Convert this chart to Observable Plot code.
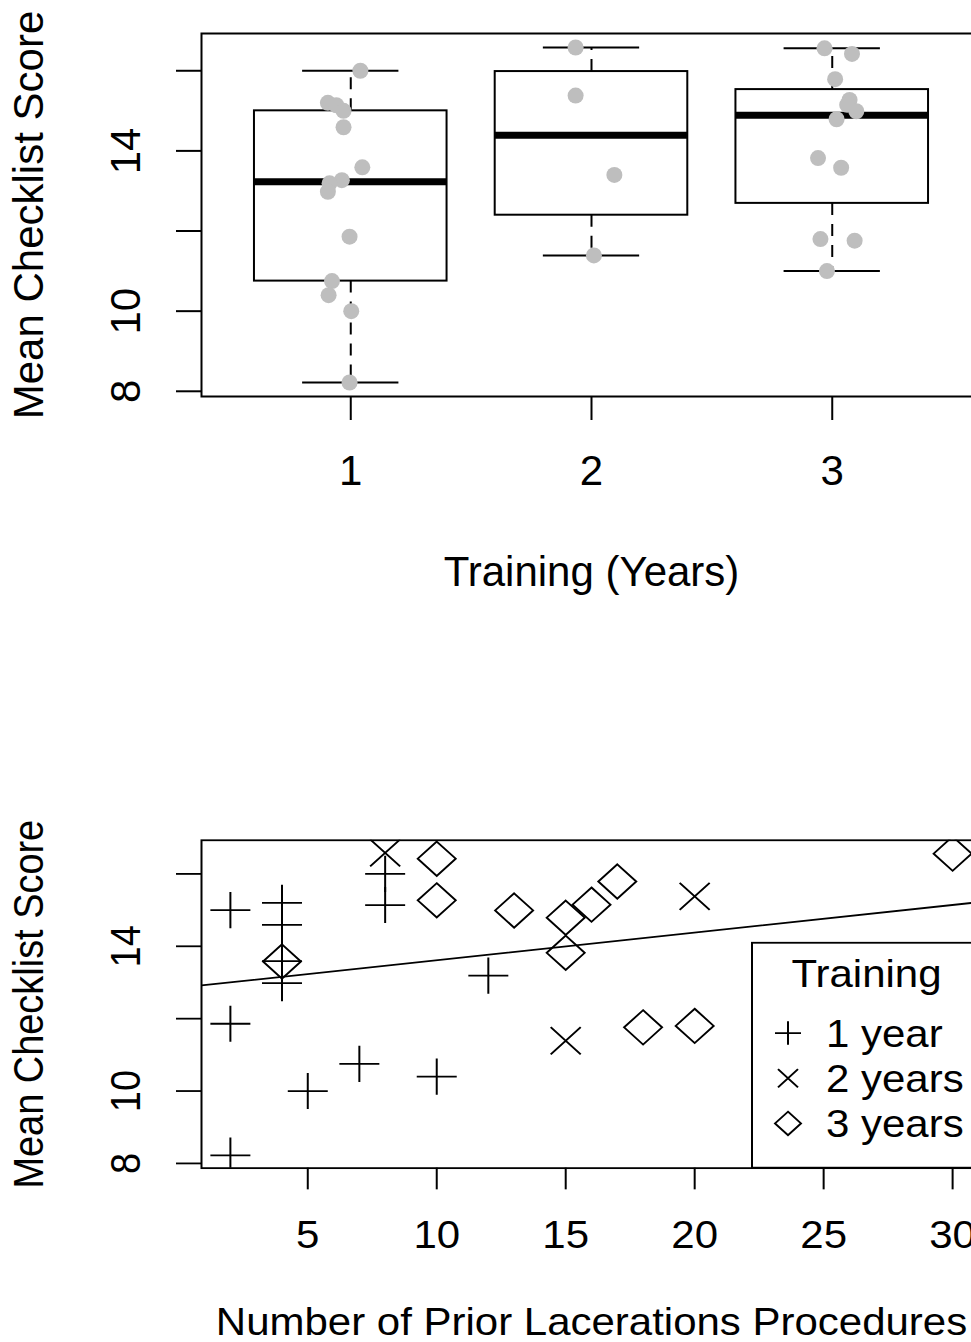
<!DOCTYPE html>
<html>
<head>
<meta charset="utf-8">
<script src="https://cdn.jsdelivr.net/npm/d3@7"></script>
<script src="https://cdn.jsdelivr.net/npm/@observablehq/plot@0.6"></script>
<style>
  html, body { margin: 0; padding: 0; background: #ffffff; width: 971px; height: 1342px; overflow: hidden; }
  #wrap { width: 971px; height: 1342px; overflow: hidden; }
  #wrap svg { display: block; max-width: none !important; }
</style>
</head>
<body>
<div id="wrap"></div>
<script>
// ---------------- DATA ----------------
// one entry per participant
const training   = [1,1,1,1,1,1,1,1,1,1,1,1,1,1, 2,2,2,2, 3,3,3,3,3,3,3,3,3,3,3,3];
const score      = [16.0, 15.2, 15.14, 15.0, 14.59, 13.59, 13.27, 13.19, 12.98, 11.86, 10.75, 10.4, 10.0, 8.22,
                    16.58, 15.38, 13.4, 11.39,
                    16.56, 16.42, 15.79, 15.27, 15.15, 14.99, 14.79, 13.82, 13.58, 11.8, 11.76, 11.0];
// prior laceration procedures (three points are hidden under the legend box in the reference)
const procedures = [8, 4, 8, 2, 4, 4, 24, 12, 4, 2, 7, 10, 5, 2,
                    8, 20, 26, 15,
                    30, 10, 17, 10, 16, 13, 15, 15, 4, 20, 18, 28];
// horizontal jitter of the strip-chart points in the box plot
const jitter     = [0.04, -0.095, -0.06, -0.03, -0.03, 0.048, -0.037, -0.088, -0.095, -0.005, -0.078, -0.092, 0.002, -0.005,
                    -0.066, -0.066, 0.095, 0.01,
                    -0.032, 0.082, 0.012, 0.072, 0.062, 0.1, 0.018, -0.059, 0.037, -0.049, 0.093, -0.022];

const groups        = [1, 2, 3];
const legendLabels  = ["1 year", "2 years", "3 years"];
const legendTitle   = "Training";
const yTicks        = [8, 10, 12, 14, 16];
const yTickLabels   = [8, 10, 14];
const xTicksTop     = [1, 2, 3];
const xTicksBottom  = [5, 10, 15, 20, 25, 30];
const yTitle        = "Mean Checklist Score";
const xTitleTop     = "Training (Years)";
const xTitleBottom  = "Number of Prior Lacerations Procedures";
// fitted regression line (score ~ procedures)
const fitIntercept  = [12.85];
const fitSlope      = [0.0764];

// ---------------- helpers ----------------
const FONT = "'Liberation Sans', Arial, Helvetica, sans-serif";
const FS = 42;
const yDomain = [7.87, 16.93];
const PLOT_H = 363;

function fivenum(v) {
  const x = v.slice().sort(d3.ascending);
  const n = x.length;
  const n4 = Math.floor((n + 3) / 2) / 2;
  const d = [1, n4, (n + 1) / 2, n + 1 - n4, n];
  return d.map(k => 0.5 * (x[Math.floor(k) - 1] + x[Math.ceil(k) - 1]));
}

const plusSymbol = {draw(ctx, size) { const h = Math.sqrt(size / Math.PI); ctx.moveTo(-h, 0); ctx.lineTo(h, 0); ctx.moveTo(0, -h); ctx.lineTo(0, h); }};
const timesSymbol = {draw(ctx, size) { const h = Math.sqrt(size / Math.PI); ctx.moveTo(-h, -h); ctx.lineTo(h, h); ctx.moveTo(-h, h); ctx.lineTo(h, -h); }};
const diamondSymbol = {draw(ctx, size) { const h = Math.sqrt(size / Math.PI); ctx.moveTo(0, -h); ctx.lineTo(h, 0); ctx.lineTo(0, h); ctx.lineTo(-h, 0); ctx.closePath(); }};
const groupSymbols = [plusSymbol, timesSymbol, diamondSymbol];
const groupSymbolR = [20, 15, 19];
const legendSymbolR = [13, 10, 13];

function axesMarks(xTicks, xTitle, titleDy) {
  return [
    Plot.frame({stroke: "black", strokeWidth: 2}),
    Plot.axisX({ticks: xTicks, tickSize: 24, tickPadding: 35, strokeWidth: 2, fontSize: FS, label: null, tickFormat: d => String(d)}),
    Plot.axisY({ticks: yTicks, tickSize: 25, strokeWidth: 2, label: null, tickFormat: () => ""}),
    Plot.text(yTickLabels, {y: d => d, text: d => String(d), frameAnchor: "left", dx: -75, rotate: -90, textAnchor: "middle", lineAnchor: "middle", fontSize: FS}),
    Plot.text([yTitle], {frameAnchor: "left", dx: -172, rotate: -90, textAnchor: "middle", lineAnchor: "middle", fontSize: FS}),
    Plot.text([xTitle], {frameAnchor: "bottom", dy: titleDy, textAnchor: "middle", lineAnchor: "middle", fontSize: FS})
  ];
}

const idx = d3.range(score.length);

// ---------------- TOP: box plot with strip chart ----------------
const stats = groups.map(g => {
  const v = idx.filter(i => training[i] === g).map(i => score[i]);
  const [mn, q1, med, q3, mx] = fivenum(v);
  const iqr = q3 - q1;
  const hi = d3.max(v.filter(s => s <= q3 + 1.5 * iqr));
  const lo = d3.min(v.filter(s => s >= q1 - 1.5 * iqr));
  return {g, q1, med, q3, hi, lo};
});

const topHeight = 670, topMarginTop = 33;
const topChart = Plot.plot({
  width: 1000, height: topHeight,
  marginLeft: 201, marginRight: 19, marginTop: topMarginTop, marginBottom: topHeight - topMarginTop - PLOT_H,
  style: {fontFamily: FONT, fontSize: FS + "px", color: "black", background: "white"},
  x: {domain: [0.38, 3.62]},
  y: {domain: yDomain},
  marks: [
    Plot.ruleX(stats, {x: "g", y1: "q3", y2: "hi", stroke: "black", strokeWidth: 2, strokeDasharray: "12,9"}),
    Plot.ruleX(stats, {x: "g", y1: "q1", y2: "lo", stroke: "black", strokeWidth: 2, strokeDasharray: "12,9"}),
    Plot.ruleY(stats, {y: "hi", x1: d => d.g - 0.2, x2: d => d.g + 0.2, stroke: "black", strokeWidth: 2}),
    Plot.ruleY(stats, {y: "lo", x1: d => d.g - 0.2, x2: d => d.g + 0.2, stroke: "black", strokeWidth: 2}),
    Plot.rect(stats, {x1: d => d.g - 0.4, x2: d => d.g + 0.4, y1: "q1", y2: "q3", fill: "white", stroke: "black", strokeWidth: 2}),
    Plot.ruleY(stats, {y: "med", x1: d => d.g - 0.4, x2: d => d.g + 0.4, stroke: "black", strokeWidth: 7}),
    Plot.dot(idx, {x: i => training[i] + jitter[i], y: i => score[i], r: 8, fill: "#bebebe", stroke: null}),
    ...axesMarks(xTicksTop, xTitleTop, 176)
  ]
});

// ---------------- BOTTOM: scatter plot with regression line ----------------
const botNativeH = 744, botMarginTop = 188;
const xDomainBottom = [0.88, 31.12];
const fitLine = xDomainBottom.map(x => ({x, y: fitIntercept[0] + fitSlope[0] * x}));

const bottomChart = Plot.plot({
  width: 1000, height: botNativeH,
  marginLeft: 201, marginRight: 19, marginTop: botMarginTop, marginBottom: botNativeH - botMarginTop - PLOT_H,
  style: {fontFamily: FONT, fontSize: FS + "px", color: "black", background: "white"},
  x: {domain: xDomainBottom},
  y: {domain: yDomain},
  marks: [
    ...groups.map((g, k) => Plot.dot(idx.filter(i => training[i] === g), {
      x: i => procedures[i], y: i => score[i], symbol: groupSymbols[k], r: groupSymbolR[k],
      fill: "none", stroke: "black", strokeWidth: 2, clip: true
    })),
    Plot.line(fitLine, {x: "x", y: "y", stroke: "black", strokeWidth: 2, clip: true}),
    ...axesMarks(xTicksBottom, xTitleBottom, 171)
  ]
});

// legend (bottom-right, white box over the points, as in R's legend())
{
  const frameBottom = botMarginTop + PLOT_H;
  const lg = d3.select(bottomChart).append("g")
    .attr("font-family", FONT).attr("font-size", FS).attr("fill", "black").attr("text-anchor", "start");
  lg.append("rect").attr("x", 752).attr("y", 302).attr("width", 300).attr("height", frameBottom - 302)
    .attr("fill", "white").attr("stroke", "black").attr("stroke-width", 2);
  lg.append("text").attr("x", 866.5).attr("y", 351).attr("text-anchor", "middle").text(legendTitle);
  const baselines = [417, 467, 517];
  legendLabels.forEach((lab, k) => {
    lg.append("path")
      .attr("transform", `translate(788,${baselines[k] - 15})`)
      .attr("d", d3.symbol(groupSymbols[k], Math.PI * legendSymbolR[k] ** 2)())
      .attr("fill", "none").attr("stroke", "black").attr("stroke-width", 2);
    lg.append("text").attr("x", 826).attr("y", baselines[k]).attr("text-anchor", "start").text(lab);
  });
}

// the bottom panel of the reference is squeezed vertically
bottomChart.setAttribute("viewBox", `0 0 1000 ${botNativeH}`);
bottomChart.setAttribute("preserveAspectRatio", "none");
bottomChart.setAttribute("height", 672);
bottomChart.style.width = "1000px";
bottomChart.style.height = "672px";
topChart.style.width = "1000px";
topChart.style.height = topHeight + "px";

document.getElementById("wrap").append(topChart, bottomChart);
</script>
</body>
</html>
